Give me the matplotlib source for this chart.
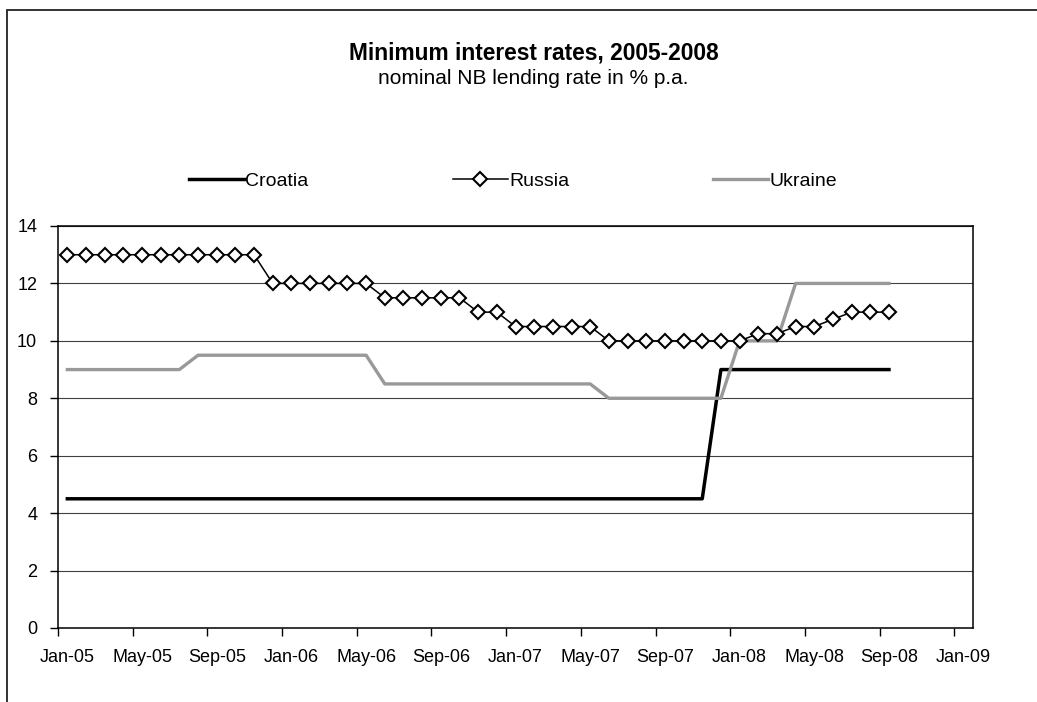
import matplotlib
matplotlib.use("Agg")
import matplotlib.pyplot as plt
from matplotlib.patches import Rectangle
import numpy as np
import pandas as pd

plt.rcParams['font.family'] = ['Liberation Sans', 'DejaVu Sans']

# monthly observations, Jan-05 .. Sep-08
months = pd.date_range("2005-01-01", "2008-09-01", freq="MS")

croatia = [
    4.5, 4.5, 4.5, 4.5, 4.5, 4.5, 4.5, 4.5, 4.5, 4.5, 4.5, 4.5,   # 2005
    4.5, 4.5, 4.5, 4.5, 4.5, 4.5, 4.5, 4.5, 4.5, 4.5, 4.5, 4.5,   # 2006
    4.5, 4.5, 4.5, 4.5, 4.5, 4.5, 4.5, 4.5, 4.5, 4.5, 4.5, 9.0,   # 2007
    9.0, 9.0, 9.0, 9.0, 9.0, 9.0, 9.0, 9.0, 9.0,                  # 2008
]
russia = [
    13.0, 13.0, 13.0, 13.0, 13.0, 13.0, 13.0, 13.0, 13.0, 13.0, 13.0, 12.0,
    12.0, 12.0, 12.0, 12.0, 12.0, 11.5, 11.5, 11.5, 11.5, 11.5, 11.0, 11.0,
    10.5, 10.5, 10.5, 10.5, 10.5, 10.0, 10.0, 10.0, 10.0, 10.0, 10.0, 10.0,
    10.0, 10.25, 10.25, 10.5, 10.5, 10.75, 11.0, 11.0, 11.0,
]
ukraine = [
    9.0, 9.0, 9.0, 9.0, 9.0, 9.0, 9.0, 9.5, 9.5, 9.5, 9.5, 9.5,
    9.5, 9.5, 9.5, 9.5, 9.5, 8.5, 8.5, 8.5, 8.5, 8.5, 8.5, 8.5,
    8.5, 8.5, 8.5, 8.5, 8.5, 8.0, 8.0, 8.0, 8.0, 8.0, 8.0, 8.0,
    10.0, 10.0, 10.0, 12.0, 12.0, 12.0, 12.0, 12.0, 12.0,
]

tick_labels = ["Jan-05", "May-05", "Sep-05", "Jan-06", "May-06", "Sep-06", "Jan-07",
               "May-07", "Sep-07", "Jan-08", "May-08", "Sep-08", "Jan-09"]

# month index, points sit in the middle of each month bucket
x = (months.year - 2005) * 12 + months.month - 1 + 0.5

fig = plt.figure(figsize=(10.37, 7.02), dpi=100)
ax = fig.add_axes([58 / 1037, 1 - 628 / 702, (973 - 58) / 1037, (628 - 226) / 702])

l_cro, = ax.plot(x, croatia, color='black', lw=2.5, zorder=3, label='Croatia')
l_ukr, = ax.plot(x, ukraine, color='#999999', lw=2.4, zorder=4, label='Ukraine')
l_rus, = ax.plot(x, russia, color='black', lw=1.1, marker='D', markersize=7.5,
                 markerfacecolor='white', markeredgecolor='black', markeredgewidth=1.5,
                 zorder=5, label='Russia')

ax.set_xlim(0, 49)
ax.set_ylim(0, 14)
ax.set_yticks(np.arange(0, 15, 2))
ax.yaxis.grid(True, color='#404040', lw=0.8)
ax.set_axisbelow(True)

major = np.arange(0, 49, 4)
ax.set_xticks(major)
ax.set_xticklabels([])
ax.set_xticks(major + 0.5, minor=True)
ax.set_xticklabels(tick_labels, minor=True)
ax.tick_params(axis='x', which='major', length=6, width=1, direction='out')
ax.tick_params(axis='x', which='minor', length=0, pad=15, labelsize=13)
ax.tick_params(axis='y', length=6, width=1, pad=9, labelsize=13)

for s in ax.spines.values():
    s.set_color('black')
    s.set_linewidth(1.1)

fig.text(534 / 1037, 1 - 53 / 702, "Minimum interest rates, 2005-2008",
         ha='center', va='center', fontsize=16.4, fontweight='bold')
fig.text(533 / 1037, 1 - 78 / 702, "nominal NB lending rate in % p.a.",
         ha='center', va='center', fontsize=15)

fig.legend(handles=[l_cro, l_rus, l_ukr], ncol=3, loc='center',
           bbox_to_anchor=(513 / 1037, 1 - 181 / 702), frameon=False, fontsize=14,
           handlelength=2.85, handletextpad=0.05, columnspacing=7.4)

# chart area border (cut off at right and bottom)
fig.patches.append(Rectangle((7 / 1037, -0.05), 1.2, 1 - 10 / 702 + 0.05,
                             transform=fig.transFigure, fill=False,
                             edgecolor='#222222', lw=1.3))

fig.savefig("out.png", dpi=100)
